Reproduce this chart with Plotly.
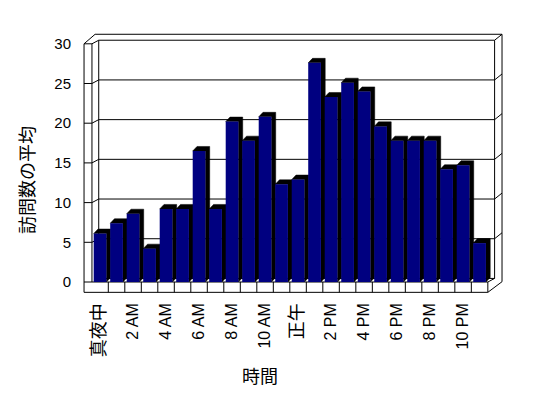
import plotly.graph_objects as go

# ---- data ----
hours = ["真夜中", "1 AM", "2 AM", "3 AM", "4 AM", "5 AM", "6 AM", "7 AM", "8 AM", "9 AM",
         "10 AM", "11 AM", "正午", "1 PM", "2 PM", "3 PM", "4 PM", "5 PM", "6 PM", "7 PM",
         "8 PM", "9 PM", "10 PM", "11 PM"]
avg_visits = [6.1, 7.4, 8.6, 4.2, 9.2, 9.2, 16.5, 9.2, 20.2, 17.8, 20.8, 12.3,
              12.9, 27.6, 23.3, 25.1, 24.0, 19.6, 17.8, 17.8, 17.8, 14.2, 14.7, 4.9]
tick_labels = ["真夜中", "2 AM", "4 AM", "6 AM", "8 AM", "10 AM", "正午",
               "2 PM", "4 PM", "6 PM", "8 PM", "10 PM"]
y_ticks = [0, 5, 10, 15, 20, 25, 30]
x_title = "時間"
y_title = "訪問数の平均"

# ---- style / geometry ----
FONT = "Liberation Sans, Arial, Noto Sans CJK JP, sans-serif"
FACE = "#000080"
DEPTH = "#000000"
BAR_W = 0.77          # front face width (category units)
DX, DY = 0.26, 0.57   # bar depth offset (x units, y units)
W_OUT, W_IN = -0.97, -0.49     # left wall strip (front face)
BDX, BDY = 0.41, 0.45          # back wall offset
SDX, SDY = 0.45, 0.75          # back slab thickness
FLOOR = -1.3
YMAX = 30
N = len(hours)
XR = [-1.215, 24.54]
YR = [-1.385, 31.36]

idx = list(range(N))
tick_pos = [hours.index(t) for t in tick_labels]


def styled(t):
    # CJK labels render a little larger in the original
    if any(ord(ch) > 0x2E80 for ch in t):
        return '<span style="font-size:18px">' + t + "</span>"
    return t


fig = go.Figure()

# depth (top + side) polygons of the 3-D columns
px_, py_ = [], []
for c, v in zip(idx, avg_visits):
    xl, xr = c - BAR_W / 2, c + BAR_W / 2
    px_ += [xl, xl + DX, xr + DX, xr + DX, xr, xr, xl, None]
    py_ += [v, v + DY, v + DY, DY, 0, v, v, None]
fig.add_trace(go.Scatter(x=px_, y=py_, mode="lines", fill="toself",
                         fillcolor=DEPTH, line=dict(color=DEPTH, width=0.5),
                         hoverinfo="skip", showlegend=False))

# front faces
fig.add_trace(go.Bar(x=idx, y=avg_visits, width=BAR_W, marker=dict(color=FACE, line=dict(width=0)),
                     xaxis="x2", yaxis="y2", showlegend=False))

# ---- frame shapes ----
shapes = []
L = dict(color="black", width=1)

def line(x0, y0, x1, y1):
    shapes.append(dict(type="line", xref="x", yref="y", x0=x0, y0=y0, x1=x1, y1=y1,
                       line=L, layer="below"))

bl, br = W_IN + BDX, N - 0.5 + BDX
# back wall
shapes.append(dict(type="rect", xref="x", yref="y", x0=bl, x1=br, y0=BDY, y1=YMAX + BDY,
                   line=L, fillcolor="white", layer="below"))
for v in y_ticks[1:-1]:
    line(bl, v + BDY, br, v + BDY)                       # back gridline
    line(W_IN, v, bl, v + BDY)                           # left wall diagonal
    line(br, v + BDY, br + SDX, v + BDY + SDY)           # right slab diagonal
for v in y_ticks:
    line(W_OUT, v, W_IN, v)                              # front ticks
# left wall strip
line(W_OUT, YMAX, W_OUT, FLOOR)
line(W_IN, YMAX, W_IN, 0)
line(W_IN, YMAX, bl, YMAX + BDY)
line(W_OUT, YMAX, bl - 0.22, YMAX + BDY + SDY)
# top slab
line(bl - 0.22, YMAX + BDY + SDY, br + SDX, YMAX + BDY + SDY)
line(br + SDX, YMAX + BDY + SDY, br, YMAX + BDY)
line(br + SDX, YMAX + BDY + SDY, br + SDX, 0.04)
# floor
line(W_IN, 0, N - 0.5, 0)
line(W_OUT, FLOOR, N - 0.5, FLOOR)
line(N - 0.5, 0, N - 0.5, FLOOR)
line(N - 0.5, FLOOR, br + SDX, 0.04)
line(N - 0.5, 0, br, BDY)
for i in range(N - 1):
    line(i + 0.5, 0, i + 0.5, FLOOR)

axis_common = dict(showgrid=False, zeroline=False, showline=False, ticks="")
fig.update_layout(
    width=540, height=390,
    margin=dict(l=72, r=43, t=25, b=105),
    paper_bgcolor="white", plot_bgcolor="white",
    font=dict(family=FONT, color="black"),
    barmode="overlay",
    shapes=shapes,
    xaxis=dict(range=XR, tickvals=tick_pos, ticktext=[styled(t) for t in tick_labels],
               tickangle=-90, tickfont=dict(size=16), ticklabelstandoff=6, **axis_common),
    yaxis=dict(range=YR, tickvals=y_ticks, tickfont=dict(size=15),
               ticklabelstandoff=8, **axis_common),
    xaxis2=dict(range=XR, overlaying="x", visible=False, **axis_common),
    yaxis2=dict(range=YR, overlaying="y", visible=False, **axis_common),
    annotations=[
        dict(text=y_title, xref="paper", yref="paper", x=-0.122, y=0.435, textangle=-90,
             showarrow=False, font=dict(size=18), xanchor="center", yanchor="middle"),
        dict(text=x_title, xref="paper", yref="paper", x=0.4235, y=-0.323,
             showarrow=False, font=dict(size=18), xanchor="center", yanchor="middle"),
    ],
)

fig.write_html("out.html")
